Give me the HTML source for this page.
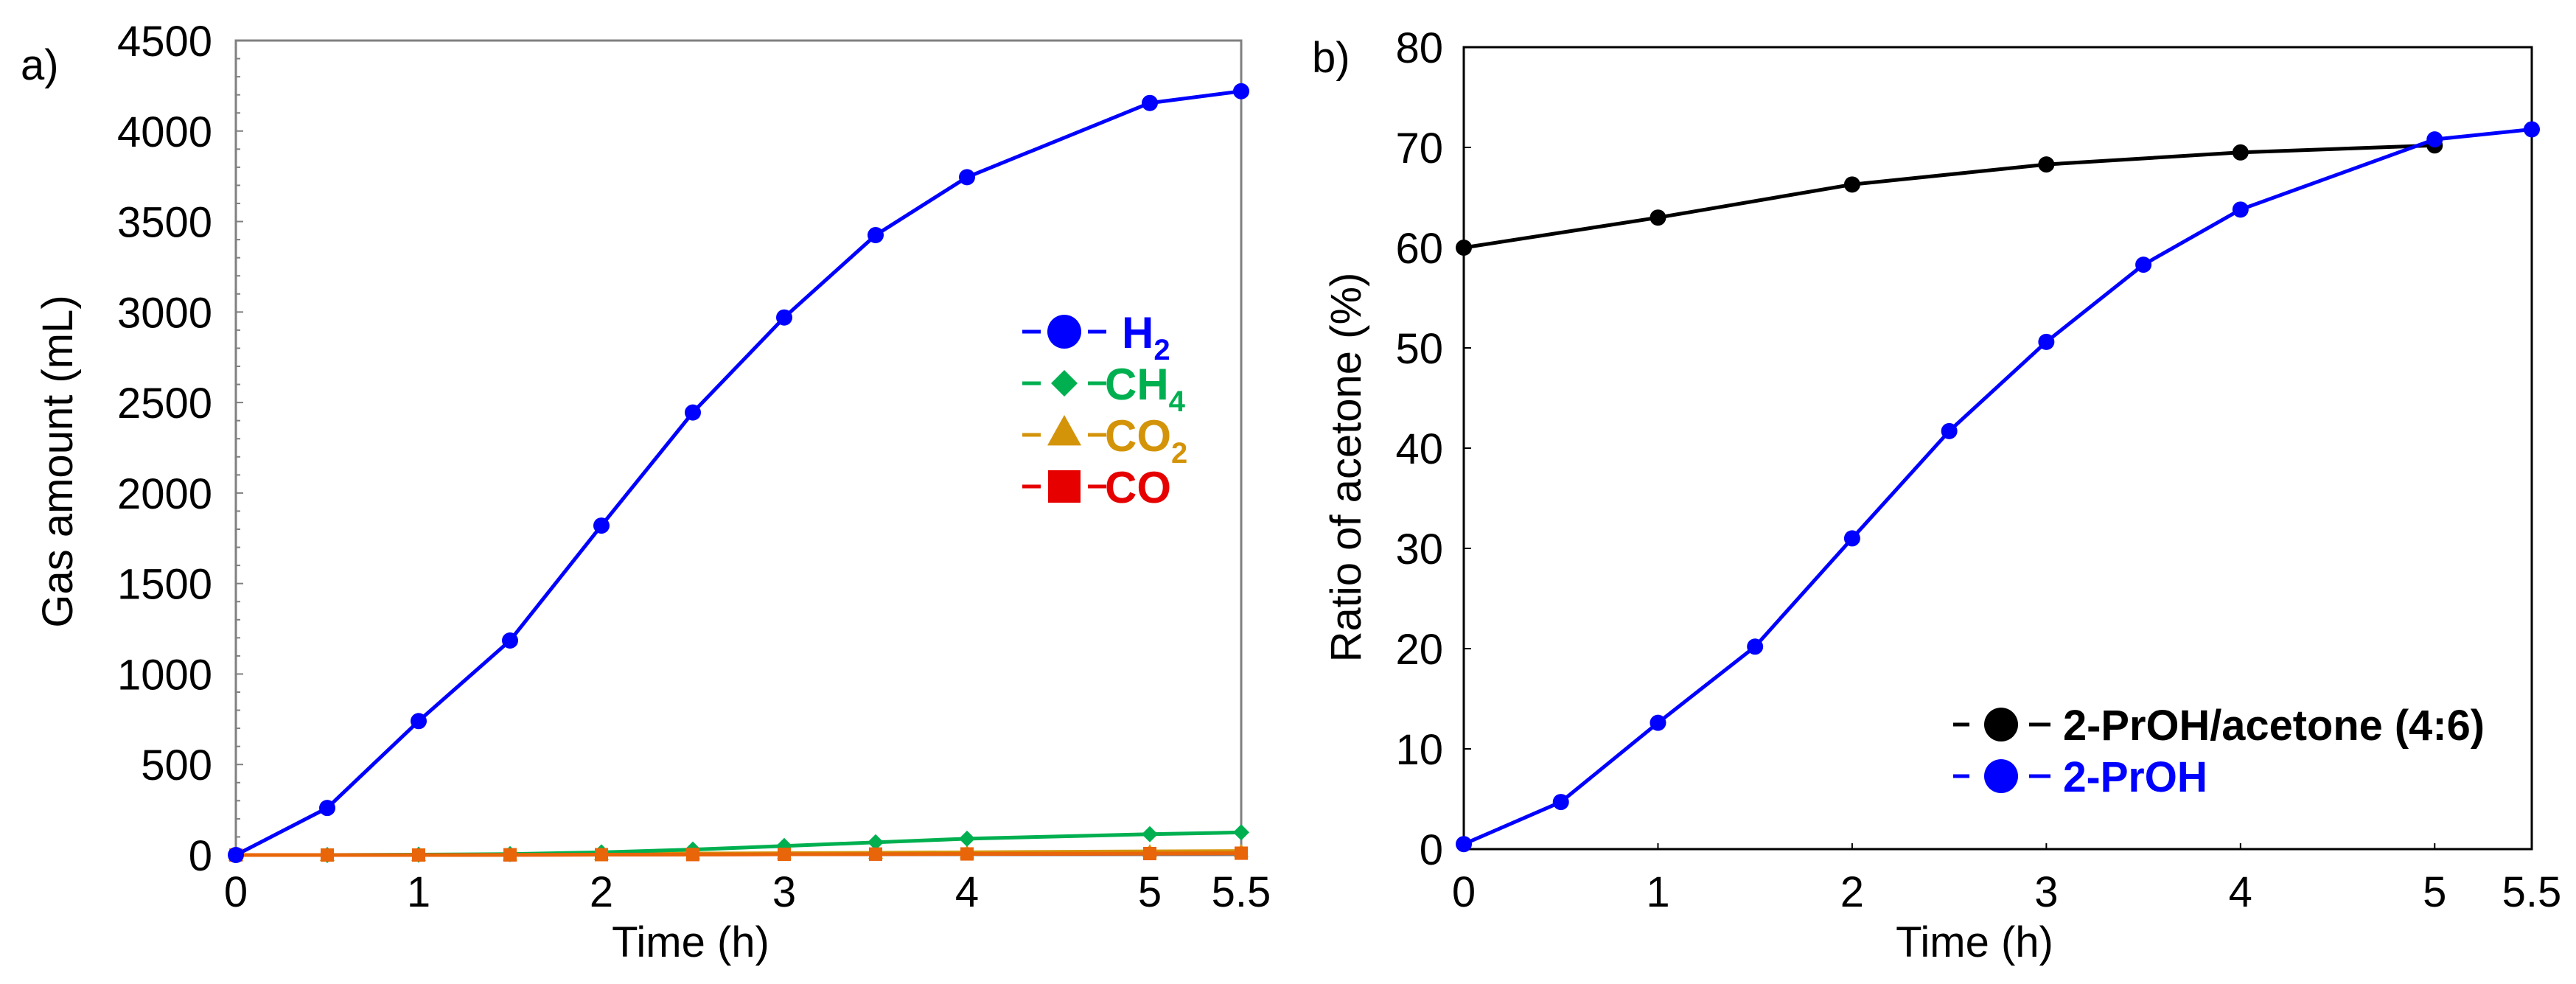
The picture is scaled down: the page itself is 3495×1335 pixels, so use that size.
<!DOCTYPE html>
<html><head><meta charset="utf-8"><style>
html,body{margin:0;padding:0;background:#fff}
svg{display:block;font-family:"Liberation Sans",Arial,sans-serif}
</style></head><body>
<svg id="fig" width="3495" height="1335" viewBox="0 0 3495 1335" xmlns="http://www.w3.org/2000/svg">
<rect width="3495" height="1335" fill="#fff"/>
<g id="pa"></g>
<g id="pb"></g>
</svg>
<script>
const timesA = [0,0.5,1,1.5,2,2.5,3,3.5,4,5,5.5];
const h2 = [0,260,740,1185,1820,2445,2970,3425,3745,4155,4220];
const ch4 = [0,0,2,5,15,30,50,70,90,115,125];
const co2 = [0,0,0,2,5,8,10,12,15,20,22];
const co = [0,0,0,1,2,3,4,5,6,8,10];
const yTicksA = [0,500,1000,1500,2000,2500,3000,3500,4000,4500];
const xTicks = [0,1,2,3,4,5,5.5];
const timesB1 = [0,1,2,3,4,5];
const mixB = [60,63,66.3,68.3,69.5,70.2];
const timesB2 = [0,0.5,1,1.5,2,2.5,3,3.5,4,5,5.5];
const proh = [0.5,4.7,12.6,20.2,31,41.7,50.6,58.3,63.8,70.8,71.8];
const yTicksB = [0,10,20,30,40,50,60,70,80];

const NS="http://www.w3.org/2000/svg";
function mk(parent,tag,attrs,text){const e=document.createElementNS(NS,tag);for(const k in attrs)e.setAttribute(k,attrs[k]);if(text!==undefined)e.textContent=text;parent.appendChild(e);return e;}

function marker(g,shape,cx,cy,s,color){
  let e;
  if(shape==='circle') e=mk(g,'circle',{cx:cx,cy:cy,r:s,fill:color});
  else if(shape==='diamond') e=mk(g,'polygon',{points:`${cx},${cy-s} ${cx+s},${cy} ${cx},${cy+s} ${cx-s},${cy}`,fill:color});
  else if(shape==='triangle') e=mk(g,'polygon',{points:`${cx},${cy-s} ${cx+s},${cy+s*0.8} ${cx-s},${cy+s*0.8}`,fill:color});
  else e=mk(g,'rect',{x:cx-s,y:cy-s,width:2*s,height:2*s,fill:color});
  return e;
}

// Panel A
const pa=document.getElementById('pa');
const A={l:320,r:1684,t:55,b:1160};
const xA=v=>A.l+(v/5.5)*(A.r-A.l);
const yA=v=>A.b-(v/4500)*(A.b-A.t);
let fa=mk(pa,'rect',{x:A.l,y:A.t,width:A.r-A.l,height:A.b-A.t,fill:'none',stroke:'#808080','stroke-width':3});


for(let v=0;v<=4500;v+=100){mk(pa,'line',{x1:A.l,x2:A.l+(v%500===0?10:6),y1:yA(v),y2:yA(v),stroke:'#808080','stroke-width':2});}
yTicksA.forEach(v=>{let t=mk(pa,'text',{x:288,y:yA(v)+21,'text-anchor':'end','font-size':58,fill:'#000'},String(v));

});
xTicks.forEach(v=>{mk(pa,'line',{x1:xA(v),x2:xA(v),y1:A.b,y2:A.b-8,stroke:'#808080','stroke-width':2});
let t=mk(pa,'text',{x:xA(v),y:1230,'text-anchor':'middle','font-size':58,fill:'#000'},String(v));

});
let xt=mk(pa,'text',{x:937,y:1298,'text-anchor':'middle','font-size':58},'Time (h)');


let yt=mk(pa,'text',{x:0,y:0,'text-anchor':'middle','font-size':58,transform:'translate(98,626) rotate(-90)'},'Gas amount (mL)');


let la=mk(pa,'text',{x:28,y:108,'font-size':58},'a)');



const seriesA=[
 {name:'co',vals:co,color:'#e60000',shape:'square',s:9},
 {name:'co2',vals:co2,color:'#d4940a',shape:'triangle',s:10},
 {name:'ch4',vals:ch4,color:'#00b050',shape:'diamond',s:11},
 {name:'orange-overlay',vals:co,color:'#e8650a',shape:'square',s:9},
 {name:'h2',vals:h2,color:'#0000ff',shape:'circle',s:11}];
seriesA.forEach(s=>{
 const g=mk(pa,'g',{});
 
 
 const pts=timesA.map((t,i)=>xA(t)+','+yA(s.vals[i])).join(' ');
 mk(g,'polyline',{points:pts,fill:'none',stroke:s.color,'stroke-width':5,'stroke-linejoin':'round'});
 timesA.forEach((t,i)=>{const m=marker(g,s.shape,xA(t),yA(s.vals[i]),s.s,s.color);
 
 });
});
// legend A
const legA=[{lab:'H',sub:'2',color:'#0000ff',shape:'circle',y:450,tx:1522,s:23},
 {lab:'CH',sub:'4',color:'#00b050',shape:'diamond',y:520,tx:1499,s:18},
 {lab:'CO',sub:'2',color:'#d4940a',shape:'triangle',y:590,tx:1499,s:23},
 {lab:'CO',sub:'',color:'#e60000',shape:'square',y:660,tx:1499,s:22}];
legA.forEach(e=>{
 const g=mk(pa,'g',{});
 
 
 mk(g,'line',{x1:1387,x2:1412,y1:e.y,y2:e.y,stroke:e.color,'stroke-width':5});
 mk(g,'line',{x1:1476,x2:1501,y1:e.y,y2:e.y,stroke:e.color,'stroke-width':5});
 marker(g,e.shape,1444,e.shape==='triangle'?e.y-4:e.y,e.s,e.color);
 const t=mk(g,'text',{x:e.tx,y:e.y+22,'font-size':60,'font-weight':'bold',fill:e.color},e.lab);
 if(e.sub){const ts=mk(t,'tspan',{'font-size':40,dy:16},e.sub);}
});

// Panel B
const pb=document.getElementById('pb');
const B={l:1986,r:3435,t:64,b:1152};
const xB=v=>B.l+(v/5.5)*(B.r-B.l);
const yB=v=>B.b-(v/80)*(B.b-B.t);
let fb=mk(pb,'rect',{x:B.l,y:B.t,width:B.r-B.l,height:B.b-B.t,fill:'none',stroke:'#000','stroke-width':3});


yTicksB.forEach(v=>{mk(pb,'line',{x1:B.l,x2:B.l+10,y1:yB(v),y2:yB(v),stroke:'#000','stroke-width':2});
let t=mk(pb,'text',{x:1958,y:yB(v)+21,'text-anchor':'end','font-size':58},String(v));

});
xTicks.forEach(v=>{mk(pb,'line',{x1:xB(v),x2:xB(v),y1:B.b,y2:B.b-8,stroke:'#000','stroke-width':2});
let t=mk(pb,'text',{x:xB(v),y:1230,'text-anchor':'middle','font-size':58},String(v));

});
let xtb=mk(pb,'text',{x:2679,y:1298,'text-anchor':'middle','font-size':58},'Time (h)');


let ytb=mk(pb,'text',{x:0,y:0,'text-anchor':'middle','font-size':58,transform:'translate(1846,634) rotate(-90)'},'Ratio of acetone (%)');


let lb=mk(pb,'text',{x:1780,y:98,'font-size':58},'b)');



const seriesB=[{name:'mixture',t:timesB1,vals:mixB,color:'#000'},{name:'2-proh',t:timesB2,vals:proh,color:'#0000ff'}];
seriesB.forEach(s=>{
 const g=mk(pb,'g',{});
 
 
 mk(g,'polyline',{points:s.t.map((t,i)=>xB(t)+','+yB(s.vals[i])).join(' '),fill:'none',stroke:s.color,'stroke-width':5,'stroke-linejoin':'round'});
 s.t.forEach((t,i)=>{const m=mk(g,'circle',{cx:xB(t),cy:yB(s.vals[i]),r:11,fill:s.color});
 
 });
});
const legB=[{lab:'2-PrOH/acetone (4:6)',color:'#000',y:983,w:572},{lab:'2-PrOH',color:'#0000ff',y:1053,w:196}];
legB.forEach(e=>{
 const g=mk(pb,'g',{});
 
 
 mk(g,'line',{x1:2650,x2:2672,y1:e.y,y2:e.y,stroke:e.color,'stroke-width':5});
 mk(g,'line',{x1:2753,x2:2782,y1:e.y,y2:e.y,stroke:e.color,'stroke-width':5});
 mk(g,'circle',{cx:2715,cy:e.y,r:23,fill:e.color});
 mk(g,'text',{x:2799,y:e.y+21,'font-size':58,'font-weight':'bold',fill:e.color,textLength:e.w,lengthAdjust:'spacingAndGlyphs'},e.lab);
});
</script>
</body></html>
